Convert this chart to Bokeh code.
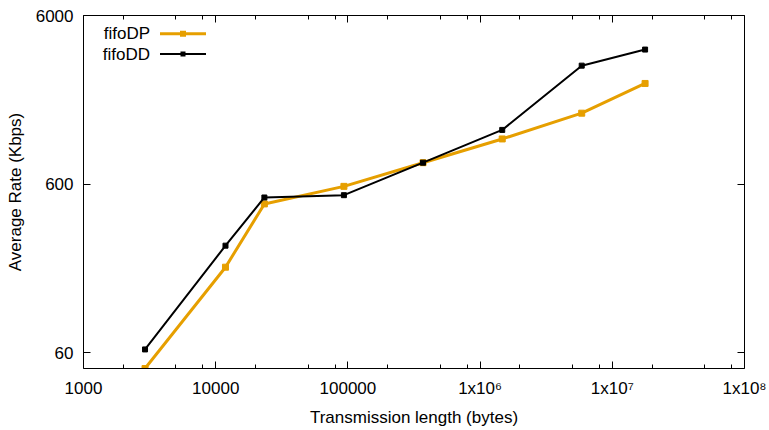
from bokeh.plotting import figure
from bokeh.models import Range1d, FixedTicker, LogAxis, Label, BoxAnnotation
from bokeh.embed import file_html
from bokeh.resources import INLINE

# ---- data ----
length_bytes = [2920, 11860, 23350, 93300, 370000, 1470000, 5870000, 17700000]
fifoDP = [48.4, 193, 458, 582, 804, 1112, 1581, 2372]
fifoDD = [62.8, 259, 500, 516, 804, 1258, 3025, 3768]

x_major = [1000, 10000, 100000, 1000000, 10000000, 100000000]
x_labels = ["1000", "10000", "100000", "1x10\u2076", "1x10\u2077", "1x10\u2078"]
x_minor_mult = [2, 5, 8]
y_major = [60, 600, 6000]
y_labels = ["60", "600", "6000"]

ORANGE = "#e69f00"
BLACK = "#000000"
FONT = "Liberation Sans"
FS = "17px"

p = figure(width=769, height=430, x_axis_type="log", y_axis_type="log",
           x_range=Range1d(1e3, 1e8), y_range=Range1d(48.4, 6000),
           output_backend="svg", toolbar_location=None,
           min_border_left=83, min_border_right=25, min_border_top=15, min_border_bottom=62)
p.outline_line_color = None
p.xgrid.visible = False
p.ygrid.visible = False

x_minor = [m * d for d in x_major[:-1] for m in x_minor_mult]
xt = FixedTicker(ticks=x_major, minor_ticks=x_minor)
yt = FixedTicker(ticks=y_major, minor_ticks=[])

def style(ax, labels=True):
    ax.axis_line_color = BLACK
    ax.axis_line_width = 1
    ax.major_tick_in = 7
    ax.major_tick_out = 0
    ax.minor_tick_in = 4
    ax.minor_tick_out = 0
    ax.major_tick_line_color = BLACK
    ax.minor_tick_line_color = BLACK
    ax.major_label_text_font = FONT
    ax.major_label_text_font_size = FS if labels else "1px"
    ax.major_label_text_color = BLACK
    if not labels:
        ax.major_label_text_alpha = 0
    ax.axis_label_text_font = FONT
    ax.axis_label_text_font_size = FS
    ax.axis_label_text_font_style = "normal"
    ax.axis_label_text_color = BLACK

xa = p.xaxis[0]
xa.ticker = xt
xa.major_label_overrides = {v: l for v, l in zip(x_major, x_labels)}
xa.axis_label = "Transmission length (bytes)"
style(xa)
xa.major_label_standoff = 10
xa.axis_label_standoff = 7

ya = p.yaxis[0]
ya.ticker = yt
ya.major_label_overrides = {v: l for v, l in zip(y_major, y_labels)}
ya.axis_label = "Average Rate (Kbps)"
style(ya)
ya.major_label_standoff = 10
ya.axis_label_standoff = 8

top = LogAxis(ticker=xt, major_label_standoff=0)
style(top, labels=False)
p.add_layout(top, "above")
right = LogAxis(ticker=yt, major_label_standoff=0)
style(right, labels=False)
p.add_layout(right, "right")

# ---- series ----
p.line(length_bytes, fifoDP, line_color=ORANGE, line_width=3)
p.scatter(length_bytes, fifoDP, marker="square", size=6, fill_color=ORANGE, line_color=ORANGE)
p.line(length_bytes, fifoDD, line_color=BLACK, line_width=2)
p.scatter(length_bytes, fifoDD, marker="square", size=5, fill_color=BLACK, line_color=BLACK)

# ---- legend (label on the left, sample on the right) ----
legend_rows = [("fifoDP", ORANGE, 3, 6, 334.7), ("fifoDD", BLACK, 2, 5, 314.4)]
for name, col, lw, ms, yy in legend_rows:
    p.add_layout(Label(x=66.5, y=yy, x_units="screen", y_units="screen", text=name,
                       text_align="right", text_baseline="middle",
                       text_font=FONT, text_font_size=FS, text_color=BLACK))
    p.add_layout(BoxAnnotation(left=76.5, right=122.5, bottom=yy - lw / 2, top=yy + lw / 2,
                               left_units="screen", right_units="screen",
                               bottom_units="screen", top_units="screen",
                               fill_color=col, fill_alpha=1, line_alpha=0, line_width=0))
    p.add_layout(BoxAnnotation(left=99.5 - ms / 2, right=99.5 + ms / 2,
                               bottom=yy - ms / 2, top=yy + ms / 2,
                               left_units="screen", right_units="screen",
                               bottom_units="screen", top_units="screen",
                               fill_color=col, fill_alpha=1, line_alpha=0, line_width=0))

open("out.html", "w").write(file_html(p, INLINE))
